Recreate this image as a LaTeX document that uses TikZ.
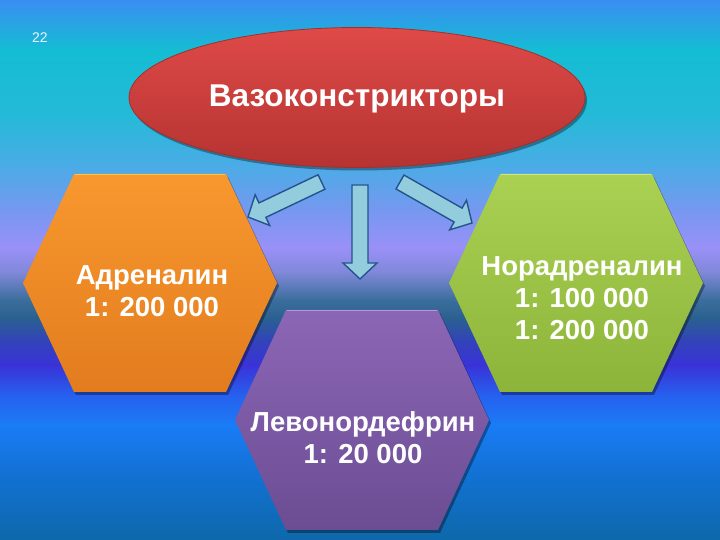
\documentclass[tikz,border=0pt]{standalone}
\usepackage{fontspec}
\setmainfont{Liberation Sans}
\usetikzlibrary{calc,shadows}
\definecolor{bg0}{HTML}{3A8EF2}
\definecolor{bg1}{HTML}{14BDD3}
\definecolor{bg2}{HTML}{24BAD8}
\definecolor{bg3}{HTML}{4AACE6}
\definecolor{bg4}{HTML}{7698F0}
\definecolor{bg5}{HTML}{9A90F8}
\definecolor{bg6}{HTML}{8088D8}
\definecolor{bg7}{HTML}{3A6E9C}
\definecolor{bg8}{HTML}{2A6090}
\definecolor{bg9}{HTML}{3244B8}
\definecolor{bg10}{HTML}{3A32D8}
\definecolor{bg11}{HTML}{2660EE}
\definecolor{bg12}{HTML}{1A7CF6}
\definecolor{bg13}{HTML}{1272D6}
\definecolor{bg14}{HTML}{0E68AA}
\definecolor{redtop}{HTML}{DE4A48}
\definecolor{redbot}{HTML}{B53331}
\definecolor{redline}{HTML}{A52E2C}
\definecolor{ortop}{HTML}{F8982E}
\definecolor{orbot}{HTML}{E27C1E}
\definecolor{orrim}{HTML}{FAC846}
\definecolor{grtop}{HTML}{AAD152}
\definecolor{grbot}{HTML}{8CB43A}
\definecolor{grrim}{HTML}{CDEA84}
\definecolor{putop}{HTML}{8C66B6}
\definecolor{pubot}{HTML}{6B4D93}
\definecolor{purim}{HTML}{B696DC}
\definecolor{arfill}{HTML}{93CDDD}
\definecolor{arline}{HTML}{24538E}
\newcommand\bgband[4]{\shade[top color=#3,bottom color=#4] (0,{540-#2-0.6}) rectangle (720,{540-#1});}
\newcommand\blockarr[3]{%
  \coordinate (#3) at ($(#2)!16pt!(#1)$);
  \draw[barrow] ($(#1)!8pt!90:(#2)$) -- ($(#3)!8pt!90:(#2)$) -- ($(#3)!17pt!90:(#2)$)
     -- (#2) -- ($(#3)!17pt!-90:(#2)$) -- ($(#3)!8pt!-90:(#2)$) -- ($(#1)!8pt!-90:(#2)$) -- cycle;}
\begin{document}
\begin{tikzpicture}[x=1pt,y=1pt,
  barrow/.style={fill=arfill,draw=arline,line width=1.4pt,line join=miter},
  hexshadow/.style={drop shadow={shadow xshift=2pt,shadow yshift=-3pt,opacity=0.35,fill=black}},
  hextext/.style={text=white,font={\fontsize{27.5pt}{32pt}\selectfont\bfseries},align=center,inner sep=0pt},
  titletext/.style={text=white,font={\fontsize{31.5pt}{36pt}\selectfont\bfseries},inner sep=0pt}]
\useasboundingbox (0,0) rectangle (720,540);
% background
\bgband{0}{50}{bg0}{bg1}
\bgband{50}{115}{bg1}{bg2}
\bgband{115}{165}{bg2}{bg3}
\bgband{165}{210}{bg3}{bg4}
\bgband{210}{248}{bg4}{bg5}
\bgband{248}{272}{bg5}{bg6}
\bgband{272}{300}{bg6}{bg7}
\bgband{300}{318}{bg7}{bg8}
\bgband{318}{340}{bg8}{bg9}
\bgband{340}{365}{bg9}{bg10}
\bgband{365}{395}{bg10}{bg11}
\bgband{395}{425}{bg11}{bg12}
\bgband{425}{470}{bg12}{bg13}
\bgband{470}{540}{bg13}{bg14}
% page number
\node[text=white!92!cyan,font=\fontsize{14pt}{16pt}\selectfont,inner sep=0pt] (pg) at (40,502) {22};
% title ellipse
\path[hexshadow,top color=redtop,bottom color=redbot,draw=redline,line width=0.8pt]
  (357,442.5) ellipse [x radius=228, y radius=70];
\node[titletext] (title) at (357,441) {Вазоконстрикторы};
% hexagons
\path[hexshadow,top color=ortop,bottom color=orbot]
  (74,366) -- (226,366) -- (277,257) -- (226,148) -- (74,148) -- (23,257) -- cycle;
\draw[orrim,line width=1.5pt] (75,365.5) -- (225,365.5);
\path[hexshadow,top color=grtop,bottom color=grbot]
  (500,366) -- (652,366) -- (703,257) -- (652,148) -- (500,148) -- (449,257) -- cycle;
\draw[grrim,line width=1.5pt] (501,365.5) -- (651,365.5);
\path[hexshadow,top color=putop,bottom color=pubot]
  (286,230) -- (438,230) -- (489,120) -- (438,10) -- (286,10) -- (235,120) -- cycle;
\draw[purim,line width=1.5pt] (287,229.5) -- (437,229.5);
\node[hextext] (adr) at (152,249) {Адреналин\\1: 200 000};
\node[hextext] (nor) at (582,242) {Норадреналин\\1: 100 000\\1: 200 000};
\node[hextext] (levo) at (363,102) {Левонордефрин\\1: 20 000};
% arrows
\coordinate (la) at (321.5,358); \coordinate (lb) at (248,323);
\coordinate (ma) at (360,355);   \coordinate (mb) at (360,261);
\coordinate (ra) at (400,358);   \coordinate (rb) at (472,317);
\blockarr{la}{lb}{lh}
\blockarr{ma}{mb}{mh}
\blockarr{ra}{rb}{rh}
\end{tikzpicture}
\end{document}
